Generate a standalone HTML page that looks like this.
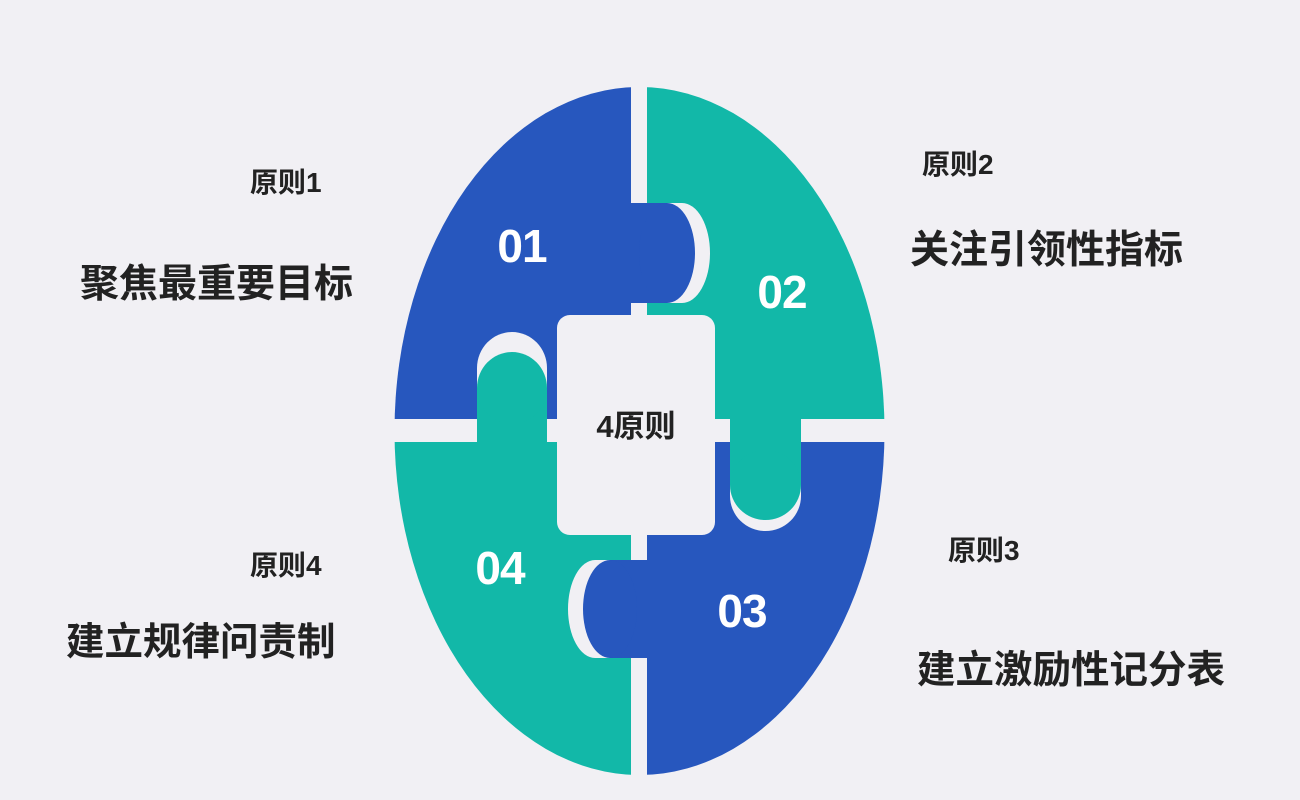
<!DOCTYPE html>
<html><head><meta charset="utf-8"><style>
html,body{margin:0;padding:0;background:#F1F0F4;}
svg{display:block}
</style></head><body>
<svg width="1300" height="800" viewBox="0 0 1300 800" xmlns="http://www.w3.org/2000/svg">
<defs><clipPath id="c"><ellipse cx="639.5" cy="431" rx="245" ry="344"/></clipPath></defs>
<rect width="1300" height="800" fill="#F1F0F4"/>
<g clip-path="url(#c)">
<rect x="390" y="80" width="241" height="339" fill="#2757BE"/>
<rect x="647" y="80" width="240" height="339" fill="#12B8A8"/>
<rect x="647" y="442" width="240" height="340" fill="#2757BE"/>
<rect x="390" y="442" width="241" height="340" fill="#12B8A8"/>
</g>
<!-- tab1 -->
<rect x="631" y="203" width="51" height="100" fill="#F1F0F4"/>
<ellipse cx="682" cy="253" rx="28" ry="50" fill="#F1F0F4"/>
<rect x="620" y="203" width="47" height="100" fill="#2757BE"/>
<ellipse cx="667" cy="253" rx="28" ry="50" fill="#2757BE"/>
<!-- tab2 -->
<rect x="730" y="410" width="71" height="86" fill="#F1F0F4"/>
<ellipse cx="765.5" cy="496" rx="35.5" ry="35" fill="#F1F0F4"/>
<rect x="730" y="410" width="71" height="75" fill="#12B8A8"/>
<ellipse cx="765.5" cy="485" rx="35.5" ry="35" fill="#12B8A8"/>
<!-- tab4 -->
<rect x="477" y="368" width="70" height="60" fill="#F1F0F4"/>
<ellipse cx="512" cy="368" rx="35" ry="36" fill="#F1F0F4"/>
<rect x="477" y="388" width="70" height="62" fill="#12B8A8"/>
<ellipse cx="512" cy="388" rx="35" ry="36" fill="#12B8A8"/>
<!-- tab3 -->
<rect x="595" y="560" width="52" height="98" fill="#F1F0F4"/>
<ellipse cx="595" cy="609" rx="27" ry="49" fill="#F1F0F4"/>
<rect x="610" y="560" width="50" height="98" fill="#2757BE"/>
<ellipse cx="610" cy="609" rx="27" ry="49" fill="#2757BE"/>
<!-- center -->
<rect x="557" y="315" width="158" height="220" rx="13" fill="#F1F0F4"/>
<g font-family="Liberation Sans, sans-serif" font-weight="bold" fill="#fff" font-size="46" text-anchor="middle" letter-spacing="-1">
<text x="522" y="262">01</text>
<text x="782" y="308">02</text>
<text x="742" y="627">03</text>
<text x="500" y="584">04</text>
</g>
<g font-family="Liberation Sans, 'Noto Sans CJK SC', sans-serif" font-weight="bold" fill="#222">
<text x="636" y="437" font-size="31" text-anchor="middle">4原则</text>
<text x="250" y="192" font-size="28">原则1</text>
<text x="80" y="297" font-size="39">聚焦最重要目标</text>
<text x="922" y="174" font-size="28">原则2</text>
<text x="910" y="263" font-size="39">关注引领性指标</text>
<text x="948" y="560" font-size="28">原则3</text>
<text x="917" y="683" font-size="38.5">建立激励性记分表</text>
<text x="250" y="575" font-size="28">原则4</text>
<text x="66" y="655" font-size="38.5">建立规律问责制</text>
</g>
</svg>
</body></html>
